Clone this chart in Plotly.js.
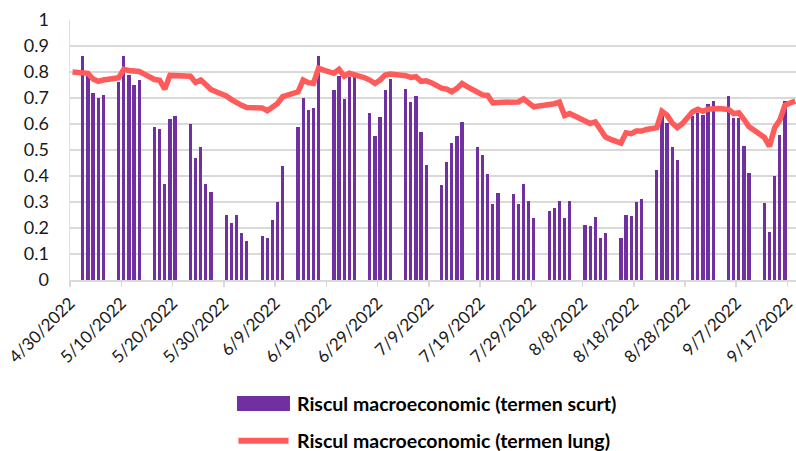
<!DOCTYPE html>
<html>
<head>
<meta charset="utf-8">
<script src="https://cdn.plot.ly/plotly-3.0.1.min.js"></script>
<style>
html,body{margin:0;padding:0;background:#fff;overflow:hidden;}
#chart{width:796px;height:451px;}
</style>
</head>
<body>
<div id="chart"></div>
<script>
// ---- data ----
const barName = 'Riscul macroeconomic (termen scurt)';
const lineName = 'Riscul macroeconomic (termen lung)';

const barDates = [
 '2022-05-02','2022-05-03','2022-05-04','2022-05-05','2022-05-06',
 '2022-05-09','2022-05-10','2022-05-11','2022-05-12','2022-05-13',
 '2022-05-16','2022-05-17','2022-05-18','2022-05-19','2022-05-20',
 '2022-05-23','2022-05-24','2022-05-25','2022-05-26','2022-05-27',
 '2022-05-30','2022-05-31','2022-06-01','2022-06-02','2022-06-03',
 '2022-06-06','2022-06-07','2022-06-08','2022-06-09','2022-06-10',
 '2022-06-13','2022-06-14','2022-06-15','2022-06-16','2022-06-17',
 '2022-06-20','2022-06-21','2022-06-22','2022-06-23','2022-06-24',
 '2022-06-27','2022-06-28','2022-06-29','2022-06-30','2022-07-01',
 '2022-07-04','2022-07-05','2022-07-06','2022-07-07','2022-07-08',
 '2022-07-11','2022-07-12','2022-07-13','2022-07-14','2022-07-15',
 '2022-07-18','2022-07-19','2022-07-20','2022-07-21','2022-07-22',
 '2022-07-25','2022-07-26','2022-07-27','2022-07-28','2022-07-29',
 '2022-08-01','2022-08-02','2022-08-03','2022-08-04','2022-08-05',
 '2022-08-08','2022-08-09','2022-08-10','2022-08-11','2022-08-12',
 '2022-08-15','2022-08-16','2022-08-17','2022-08-18','2022-08-19',
 '2022-08-22','2022-08-23','2022-08-24','2022-08-25','2022-08-26',
 '2022-08-29','2022-08-30','2022-08-31','2022-09-01','2022-09-02',
 '2022-09-05','2022-09-06','2022-09-07','2022-09-08','2022-09-09',
 '2022-09-12','2022-09-13','2022-09-14','2022-09-15','2022-09-16'
];
const barValues = [
 0.86,0.79,0.72,0.70,0.71,
 0.76,0.86,0.79,0.75,0.77,
 0.59,0.58,0.37,0.62,0.63,
 0.60,0.47,0.51,0.37,0.34,
 0.25,0.22,0.25,0.18,0.15,
 0.17,0.16,0.23,0.30,0.44,
 0.59,0.70,0.655,0.66,0.86,
 0.73,0.785,0.695,0.78,0.78,
 0.644,0.554,0.627,0.73,0.774,
 0.736,0.685,0.706,0.568,0.444,
 0.364,0.455,0.526,0.552,0.609,
 0.513,0.482,0.408,0.291,0.334,
 0.332,0.291,0.370,0.305,0.238,
 0.264,0.276,0.305,0.237,0.305,
 0.210,0.207,0.243,0.161,0.179,
 0.161,0.251,0.248,0.300,0.311,
 0.422,0.645,0.602,0.513,0.463,
 0.632,0.641,0.636,0.677,0.687,
 0.706,0.622,0.622,0.517,0.411,
 0.298,0.183,0.401,0.558,0.687
];

const lineStartDate = '2022-04-30';
const lineValues = [
 0.800,0.800,0.800,0.795,0.773,0.764,0.769,0.774,0.775,0.778,
 0.810,0.806,0.805,0.802,0.792,0.779,0.771,0.768,0.734,0.787,
 0.786,0.784,0.784,0.784,0.760,0.769,0.752,0.733,0.724,0.717,
 0.708,0.694,0.681,0.672,0.663,0.663,0.663,0.662,0.651,0.663,
 0.679,0.705,0.711,0.715,0.724,0.769,0.759,0.756,0.814,0.807,
 0.801,0.795,0.810,0.784,0.795,0.791,0.784,0.778,0.769,0.756,
 0.769,0.788,0.792,0.791,0.789,0.786,0.779,0.782,0.764,0.766,
 0.759,0.746,0.738,0.734,0.724,0.737,0.756,0.744,0.732,0.719,
 0.712,0.710,0.681,0.683,0.684,0.684,0.684,0.685,0.697,0.679,
 0.666,0.669,0.671,0.674,0.678,0.684,0.633,0.640,0.630,0.618,
 0.608,0.602,0.608,0.578,0.550,0.541,0.535,0.527,0.566,0.563,
 0.573,0.573,0.579,0.582,0.586,0.649,0.634,0.604,0.586,0.602,
 0.624,0.647,0.657,0.649,0.657,0.660,0.660,0.658,0.656,0.640,
 0.643,0.618,0.589,0.576,0.563,0.548,0.514,0.586,0.615,0.672,
 0.681,0.688
];
// consecutive calendar days for the line series
const DAY = 86400000;
const lineDates = lineValues.map((_, i) => {
  const d = new Date(Date.parse(lineStartDate + 'T00:00:00Z') + i * DAY);
  return d.toISOString().slice(0, 10);
});

const xTickDates = [
 '2022-04-30','2022-05-10','2022-05-20','2022-05-30','2022-06-09',
 '2022-06-19','2022-06-29','2022-07-09','2022-07-19','2022-07-29',
 '2022-08-08','2022-08-18','2022-08-28','2022-09-07','2022-09-17'
];
const xTickLabels = [
 '4/30/2022','5/10/2022','5/20/2022','5/30/2022','6/9/2022',
 '6/19/2022','6/29/2022','7/9/2022','7/19/2022','7/29/2022',
 '8/8/2022','8/18/2022','8/28/2022','9/7/2022','9/17/2022'
];
const xRange = ['2022-04-30', '2022-09-18 15:50'];

// ---- styles ----
const purple = '#7030A0';
const red = '#FF5B5B';
const gridCol = '#d9d9d9';
const fontFam = 'Lato, "Open Sans", sans-serif';

const traces = [
  {
    type: 'bar', name: barName, x: barDates, y: barValues,
    xperiod: DAY, xperiodalignment: 'middle',
    width: 0.64 * DAY,
    marker: {color: purple, line: {width: 0}},
    showlegend: false, hoverinfo: 'x+y'
  },
  {
    type: 'scatter', mode: 'lines', name: lineName, x: lineDates, y: lineValues,
    xperiod: DAY, xperiodalignment: 'middle',
    line: {color: red, width: 5.5, shape: 'linear'},
    showlegend: false, hoverinfo: 'x+y'
  }
];

// legend drawn as shapes + text (Excel-like wide keys)
const layout = {
  width: 796, height: 451,
  margin: {l: 70, r: 0, t: 20, b: 171},
  paper_bgcolor: '#ffffff', plot_bgcolor: '#ffffff',
  font: {family: fontFam, color: '#1a1a1a'},
  bargap: 0,
  xaxis: {
    type: 'date', range: xRange,
    tickmode: 'array', tickvals: xTickDates, ticktext: xTickLabels,
    tickangle: -45, tickfont: {size: 17, family: fontFam, color: '#1a1a1a'},
    ticklabeloverflow: 'allow',
    ticks: 'outside', ticklen: 5, tickcolor: gridCol, tickwidth: 1.5,
    showline: true, linecolor: gridCol, linewidth: 1.5,
    showgrid: false, zeroline: false, fixedrange: true
  },
  yaxis: {
    range: [0, 1], dtick: 0.1, tick0: 0,
    tickfont: {size: 18, family: fontFam, color: '#1a1a1a'},
    showgrid: true, gridcolor: gridCol, gridwidth: 1.5,
    zeroline: false, showline: true, linecolor: '#e6dcef', linewidth: 1.5,
    ticks: '', ticklabelstandoff: 16, fixedrange: true
  },
  shapes: [
    {type: 'rect', xref: 'paper', yref: 'paper',
     x0: 0.230, x1: 0.303, y0: -0.504, y1: -0.446,
     fillcolor: purple, line: {width: 0}},
    {type: 'line', xref: 'paper', yref: 'paper',
     x0: 0.232, x1: 0.301, y0: -0.6178, y1: -0.6178,
     line: {color: red, width: 6}}
  ],
  annotations: [
    {xref: 'paper', yref: 'paper', x: 0.3113, y: -0.475, xanchor: 'left', yanchor: 'middle',
     text: '<b>' + barName + '</b>', showarrow: false, borderpad: 0,
     font: {size: 19.5, family: fontFam, color: '#000'}},
    {xref: 'paper', yref: 'paper', x: 0.3113, y: -0.6178, xanchor: 'left', yanchor: 'middle',
     text: '<b>' + lineName + '</b>', showarrow: false, borderpad: 0,
     font: {size: 19.5, family: fontFam, color: '#000'}}
  ]
};

Plotly.newPlot('chart', traces, layout, {displayModeBar: false, staticPlot: true});
</script>
</body>
</html>
